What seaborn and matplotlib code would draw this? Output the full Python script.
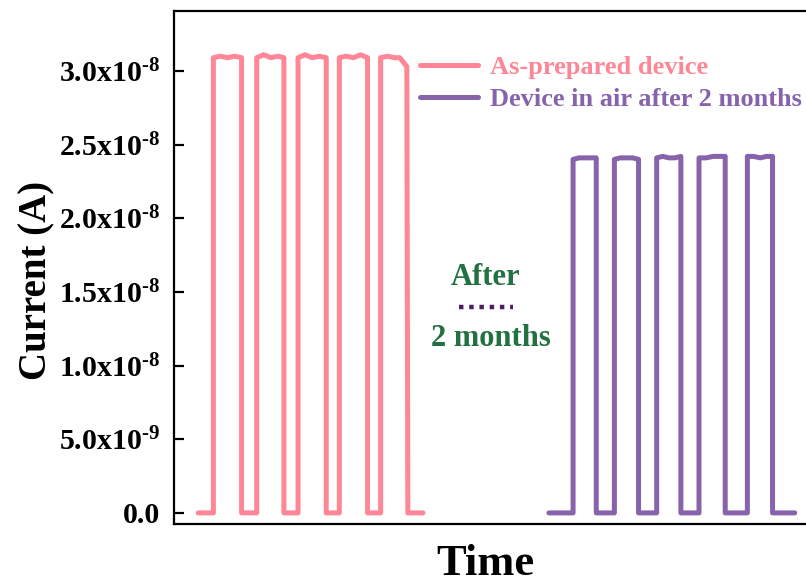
import matplotlib
matplotlib.use("Agg")
import matplotlib.pyplot as plt
from matplotlib.ticker import FixedLocator, FixedFormatter
from matplotlib.lines import Line2D
import seaborn as sns
import pandas as pd

# Photocurrent switching traces (time in arbitrary units, current in A)
fresh_time = [24, 39, 39, 46, 53, 60, 67, 67, 82, 82, 89, 96, 103, 109, 109,
              123, 123, 130, 137, 144, 151, 151, 164, 164, 171, 178, 185, 192, 192,
              205, 205, 212, 219, 224, 231, 232, 247]
fresh_curr = [0.0, 0.0, 3.09e-8, 3.10e-8, 3.09e-8, 3.10e-8, 3.09e-8, 0.0, 0.0, 3.09e-8,
              3.11e-8, 3.09e-8, 3.10e-8, 3.09e-8, 0.0,
              0.0, 3.09e-8, 3.11e-8, 3.09e-8, 3.10e-8, 3.09e-8, 0.0, 0.0, 3.09e-8,
              3.10e-8, 3.09e-8, 3.11e-8, 3.09e-8, 0.0,
              0.0, 3.09e-8, 3.10e-8, 3.09e-8, 3.09e-8, 3.03e-8, 0.0, 0.0]

aged_time = [372, 396, 396, 402, 408, 414, 419, 419, 437, 437, 443, 449, 455, 461, 461,
             479, 479, 485, 491, 497, 503, 503, 521, 521, 528, 535, 541, 547, 547,
             569, 569, 575, 582, 588, 594, 594, 616]
aged_curr = [0.0, 0.0, 2.40e-8, 2.41e-8, 2.41e-8, 2.41e-8, 2.41e-8, 0.0, 0.0, 2.40e-8,
             2.41e-8, 2.41e-8, 2.41e-8, 2.40e-8, 0.0,
             0.0, 2.41e-8, 2.42e-8, 2.41e-8, 2.41e-8, 2.42e-8, 0.0, 0.0, 2.41e-8,
             2.41e-8, 2.42e-8, 2.42e-8, 2.42e-8, 0.0,
             0.0, 2.42e-8, 2.42e-8, 2.41e-8, 2.42e-8, 2.42e-8, 0.0, 0.0]

series_labels = ["As-prepared device", "Device in air after 2 months"]
series_colors = ["#ff8696", "#8763ab"]

y_ticks = [0.0, 0.5e-8, 1.0e-8, 1.5e-8, 2.0e-8, 2.5e-8, 3.0e-8]
y_tick_labels = ["0.0", r"5.0x10$^{\text{-9}}$", r"1.0x10$^{\text{-8}}$",
                 r"1.5x10$^{\text{-8}}$", r"2.0x10$^{\text{-8}}$",
                 r"2.5x10$^{\text{-8}}$", r"3.0x10$^{\text{-8}}$"]

sns.set_theme(style="ticks")
plt.rcParams["font.family"] = ["Liberation Serif", "DejaVu Serif"]
plt.rcParams["font.weight"] = "bold"
plt.rcParams["mathtext.fontset"] = "custom"
plt.rcParams["mathtext.rm"] = "Liberation Serif:bold"
plt.rcParams["mathtext.bf"] = "Liberation Serif:bold"
plt.rcParams["mathtext.it"] = "Liberation Serif:bold"
plt.rcParams["mathtext.default"] = "bf"
for key in ["text.color", "axes.labelcolor", "xtick.color", "ytick.color", "axes.edgecolor"]:
    plt.rcParams[key] = "black"

df = pd.concat([
    pd.DataFrame({"time": fresh_time, "current": fresh_curr, "series": series_labels[0]}),
    pd.DataFrame({"time": aged_time, "current": aged_curr, "series": series_labels[1]}),
], ignore_index=True)

fig = plt.figure(figsize=(8.06, 5.86), dpi=100)
ax = fig.add_axes([0.216, 0.106, 0.80, 0.875])

sns.lineplot(data=df, x="time", y="current", hue="series", units="series",
             estimator=None, sort=False, palette=series_colors, linewidth=3.6,
             legend=False, ax=ax)

ax.set_xlim(0, 640)
ax.set_ylim(-0.0746e-8, 3.406e-8)
ax.set_xticks([])
ax.yaxis.set_major_locator(FixedLocator(y_ticks))
ax.yaxis.set_major_formatter(FixedFormatter(y_tick_labels))
ax.tick_params(axis="y", direction="in", length=7, width=1.6, labelsize=21.5, pad=10)
for lab in ax.get_yticklabels():
    lab.set_fontweight("bold")
for s in ax.spines.values():
    s.set_linewidth(1.6)

ax.set_ylabel("Current (A)", fontsize=28, fontweight="bold")
ax.yaxis.set_label_coords(-0.184, 0.475)
ax.set_xlabel("Time", fontsize=32, fontweight="bold")
ax.xaxis.set_label_coords(0.483, -0.04)

# legend with coloured labels
handles = [Line2D([], [], color=c, lw=3.6) for c in series_colors]
leg = ax.legend(handles, series_labels, loc="upper left", bbox_to_anchor=(0.381, 0.9125),
                frameon=False, fontsize=19, handlelength=2.2, handletextpad=0.45,
                labelspacing=0.3, borderaxespad=0, borderpad=0)
for txt, c in zip(leg.get_texts(), series_colors):
    txt.set_color(c)
    txt.set_fontweight("bold")

# annotation between the two traces
ax.text(309, 1.595e-8, "After", ha="center", va="center",
        color="#237040", fontsize=22, fontweight="bold")
ax.plot([283, 336], [1.40e-8, 1.40e-8], color="#4d1d5e",
        lw=3.2, linestyle=(0, (1, 1.3)))
ax.text(314, 1.185e-8, "2 months", ha="center", va="center",
        color="#237040", fontsize=22, fontweight="bold")

fig.savefig("out.png", dpi=100)
